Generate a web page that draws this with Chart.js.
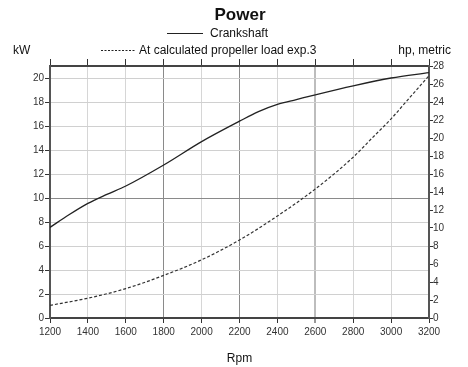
<!DOCTYPE html>
<html>
<head>
<meta charset="utf-8">
<script src="https://cdn.jsdelivr.net/npm/chart.js@4.4.1/dist/chart.umd.min.js"></script>
<style>
  html, body { margin: 0; padding: 0; background: #fff; }
  #wrap { position: relative; width: 468px; height: 367px; }
</style>
</head>
<body>
<div id="wrap"><canvas id="c" width="468" height="367"></canvas></div>
<script>
// ---- data ----
const rpm = [1200, 1300, 1400, 1500, 1600, 1800, 2000, 2200, 2300, 2400, 2500, 2600, 2800, 3000, 3200];
const crankshaftKW = [7.55, 8.6, 9.55, 10.3, 11.0, 12.75, 14.7, 16.4, 17.2, 17.8, 18.2, 18.6, 19.35, 20.0, 20.45];
const propRpm = [1200, 1400, 1600, 1800, 2000, 2200, 2400, 2600, 2800, 2900, 3000, 3100, 3200];
const propellerKW = [1.05, 1.65, 2.45, 3.55, 4.85, 6.5, 8.5, 10.75, 13.4, 15.0, 16.6, 18.4, 20.2];
const xTicks = [1200, 1400, 1600, 1800, 2000, 2200, 2400, 2600, 2800, 3000, 3200];
const kwTicks = [0, 2, 4, 6, 8, 10, 12, 14, 16, 18, 20];
const hpTicks = [0, 2, 4, 6, 8, 10, 12, 14, 16, 18, 20, 22, 24, 26, 28];
const titleText = 'Power';
const seriesNames = ['Crankshaft', 'At calculated propeller load exp.3'];
const leftUnit = 'kW';
const rightUnit = 'hp, metric';
const xTitle = 'Rpm';

const FONT = '"Liberation Sans", Arial, sans-serif';

const labelsPlugin = {
  id: 'labelsPlugin',
  afterDraw(chart) {
    const ctx = chart.ctx;
    ctx.save();
    ctx.fillStyle = '#111';
    ctx.textBaseline = 'middle';
    // title
    ctx.font = 'bold 17px ' + FONT;
    ctx.textAlign = 'center';
    ctx.fillText(titleText, 240, 15);
    // legend 1
    ctx.font = '12px ' + FONT;
    ctx.textAlign = 'left';
    ctx.strokeStyle = '#222';
    ctx.lineWidth = 1.2;
    ctx.beginPath(); ctx.moveTo(167, 33.5); ctx.lineTo(203, 33.5); ctx.stroke();
    ctx.fillText(seriesNames[0], 210, 34);
    // legend 2
    ctx.setLineDash([2, 1.5]);
    ctx.beginPath(); ctx.moveTo(101, 50.5); ctx.lineTo(136, 50.5); ctx.stroke();
    ctx.setLineDash([]);
    ctx.fillText(seriesNames[1], 139, 51);
    // units
    ctx.fillText(leftUnit, 13, 51);
    ctx.textAlign = 'right';
    ctx.fillText(rightUnit, 451, 51);
    ctx.restore();
  }
};

const gridColorX = (c) => {
  const v = c.tick && c.tick.value;
  if (v === 1800 || v === 2200) return '#8a8a8a';
  if (v === 2600) return '#bdbdbd';
  return '#d6d6d6';
};
const gridWidthX = (c) => {
  const v = c.tick && c.tick.value;
  if (v === 2600) return 2;
  return 1;
};
const gridColorY = (c) => {
  const v = c.tick && c.tick.value;
  if (v === 10) return '#8a8a8a';
  return '#d0d0d0';
};
const plain = (v) => String(v);

new Chart(document.getElementById('c'), {
  type: 'line',
  data: {
    datasets: [
      {
        label: seriesNames[0],
        data: rpm.map((x, i) => ({ x, y: crankshaftKW[i] })),
        borderColor: '#222',
        borderWidth: 1.3,
        pointRadius: 0,
        cubicInterpolationMode: 'monotone',
        yAxisID: 'y'
      },
      {
        label: seriesNames[1],
        data: propRpm.map((x, i) => ({ x, y: propellerKW[i] })),
        borderColor: '#333',
        borderWidth: 1.2,
        borderDash: [3, 2],
        pointRadius: 0,
        cubicInterpolationMode: 'monotone',
        yAxisID: 'y'
      }
    ]
  },
  plugins: [labelsPlugin],
  options: {
    responsive: false,
    animation: false,
    layout: { padding: { top: 59, left: 0, right: 0, bottom: 0 } },
    plugins: {
      legend: { display: false },
      title: { display: false },
      tooltip: { enabled: false }
    },
    scales: {
      x: {
        type: 'linear',
        position: 'bottom',
        min: 1200, max: 3200,
        afterBuildTicks: (s) => { s.ticks = xTicks.map(v => ({ value: v })); },
        afterFit: (s) => { s.height = 49; },
        ticks: { color: '#333', font: { family: FONT, size: 10 }, padding: 3, maxRotation: 0, autoSkip: false, callback: plain },
        grid: { color: gridColorX, lineWidth: gridWidthX, tickColor: '#333', tickLength: 5, tickWidth: 1 },
        border: { color: '#444', width: 2 },
        title: { display: true, text: xTitle, color: '#111', font: { family: FONT, size: 12 }, padding: { top: 10, bottom: 1 } }
      },
      xTop: {
        type: 'linear',
        position: 'top',
        min: 1200, max: 3200,
        afterBuildTicks: (s) => { s.ticks = xTicks.map(v => ({ value: v })); },
        afterFit: (s) => { s.height = 7; },
        ticks: { display: false },
        grid: { drawOnChartArea: false, tickColor: '#333', tickLength: 7, tickWidth: 1 },
        border: { color: '#444', width: 2 }
      },
      y: {
        type: 'linear',
        position: 'left',
        min: 0, max: 21,
        afterBuildTicks: (s) => { s.ticks = kwTicks.map(v => ({ value: v })); },
        afterFit: (s) => { s.width = 50; },
        ticks: { color: '#333', font: { family: FONT, size: 10 }, padding: 1, callback: plain },
        grid: { color: gridColorY, tickColor: '#333', tickLength: 5, tickWidth: 1 },
        border: { color: '#555', width: 2 }
      },
      y2: {
        type: 'linear',
        position: 'right',
        min: 0, max: 28,
        afterBuildTicks: (s) => { s.ticks = hpTicks.map(v => ({ value: v })); },
        afterFit: (s) => { s.width = 39; },
        ticks: { color: '#333', font: { family: FONT, size: 10 }, padding: 0, callback: plain },
        grid: { drawOnChartArea: false, tickColor: '#333', tickLength: 4, tickWidth: 1 },
        border: { color: '#555', width: 2 }
      }
    }
  }
});
</script>
</body>
</html>
